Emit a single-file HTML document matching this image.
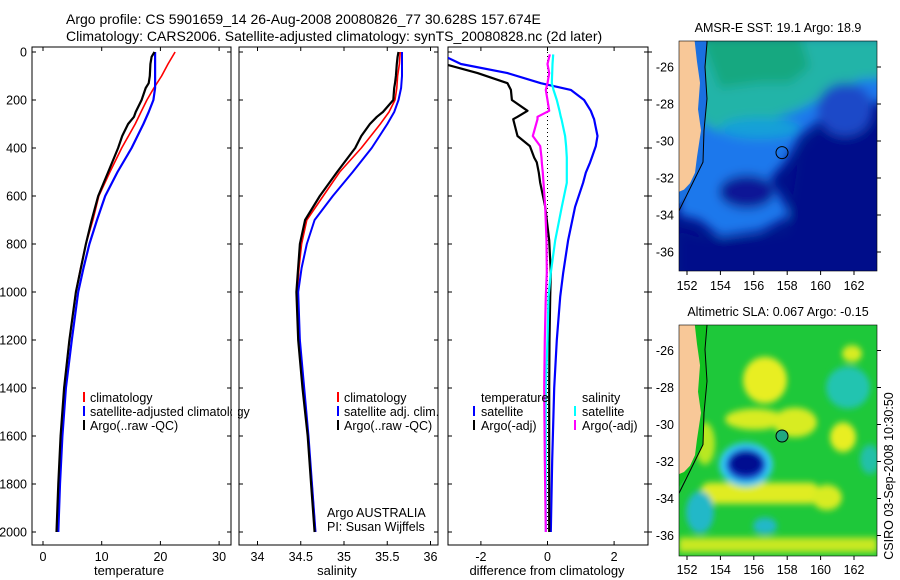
<!DOCTYPE html>
<html><head><meta charset="utf-8"><style>
html,body{margin:0;padding:0;background:#fff;}
svg{display:block;font-family:"Liberation Sans",sans-serif;}
text{fill:#000;}
</style></head><body>
<svg id="fig" width="900" height="580" viewBox="0 0 900 580">
<defs>
<clipPath id="c1"><rect x="32" y="47" width="199" height="498"/></clipPath>
<clipPath id="c2"><rect x="239" y="47" width="199" height="498"/></clipPath>
<clipPath id="c3"><rect x="448" y="47" width="200" height="498"/></clipPath>
<clipPath id="m1"><rect x="679" y="41" width="198" height="230"/></clipPath>
<clipPath id="m2"><rect x="679" y="325" width="198" height="231"/></clipPath>
<filter id="bl" x="-30%" y="-30%" width="160%" height="160%"><feGaussianBlur stdDeviation="5"/></filter>
<filter id="bl2" x="-30%" y="-30%" width="160%" height="160%"><feGaussianBlur stdDeviation="3"/></filter>
</defs>
<text x="66" y="24" font-size="14">Argo profile: CS 5901659_14 26-Aug-2008 20080826_77 30.628S 157.674E</text>
<text x="66" y="41" font-size="14">Climatology: CARS2006. Satellite-adjusted climatology: synTS_20080828.nc (2d later)</text>

<rect x="32" y="47" width="199" height="498" fill="none" stroke="#000"/>
<rect x="239" y="47" width="199" height="498" fill="none" stroke="#000"/>
<rect x="448" y="47" width="200" height="498" fill="none" stroke="#000"/>
<g id="axes"></g>
<g id="series"></g>

<text x="129" y="575" font-size="13" text-anchor="middle">temperature</text>
<text x="337" y="575" font-size="13" text-anchor="middle">salinity</text>
<text x="547" y="575" font-size="13" text-anchor="middle">difference from climatology</text>

<g font-size="12.5">
<rect x="83" y="392" width="2" height="10" fill="#f00"/><text x="90" y="402">climatology</text>
<rect x="83" y="406" width="2" height="10" fill="#00f"/><text x="90" y="416">satellite-adjusted climatology</text>
<rect x="83" y="420" width="2" height="10" fill="#000"/><text x="90" y="430">Argo(..raw -QC)</text>
</g>
<rect x="232" y="390" width="6" height="30" fill="#fff"/>
<g font-size="12.5">
<rect x="337" y="392" width="2" height="10" fill="#f00"/><text x="344" y="402">climatology</text>
<rect x="337" y="406" width="2" height="10" fill="#00f"/><text x="344" y="416">satellite adj. clim.</text>
<rect x="337" y="420" width="2" height="10" fill="#000"/><text x="344" y="430">Argo(..raw -QC)</text>
</g>
<text x="327" y="517" font-size="12.5">Argo AUSTRALIA</text>
<text x="327" y="531" font-size="12.5">PI: Susan Wijffels</text>
<g font-size="12.5">
<text x="481" y="402">temperature</text>
<rect x="473" y="406" width="2" height="10" fill="#00f"/><text x="481" y="416">satellite</text>
<rect x="473" y="420" width="2" height="10" fill="#000"/><text x="481" y="430">Argo(-adj)</text>
<text x="582" y="402">salinity</text>
<rect x="574" y="406" width="2" height="10" fill="#0ff"/><text x="582" y="416">satellite</text>
<rect x="574" y="420" width="2" height="10" fill="#f0f"/><text x="582" y="430">Argo(-adj)</text>
</g>

<text x="778" y="32" font-size="12.5" text-anchor="middle">AMSR-E SST: 19.1  Argo: 18.9</text>
<g clip-path="url(#m1)">
<rect x="679" y="41" width="198" height="230" fill="#00108a"/>
<g transform="translate(0,67) scale(1,1.057) translate(0,-60)">
<g filter="url(#bl)">
<path d="M679,30 L890,30 L890,95 L840,90 L820,110 L800,125 L785,150 L770,165 L790,200 L760,215 L720,220 L700,205 L679,200 Z" fill="#1a78ec"/>
<path d="M679,30 L890,30 L890,70 L860,72 L830,85 L800,100 L770,110 L740,125 L715,120 L700,110 L679,110 Z" fill="#20b4a8"/>
<path d="M700,30 L800,30 L810,60 L790,75 L760,75 L720,80 Z" fill="#18a880"/>
<ellipse cx="760" cy="118" rx="40" ry="10" fill="#18a0d8"/>
<ellipse cx="747" cy="178" rx="28" ry="16" fill="#0a1896"/>
<path d="M800,140 L820,120 L845,125 L890,110 L890,260 L790,260 L790,200 Z" fill="#00108a"/>
<ellipse cx="845" cy="100" rx="28" ry="25" fill="#1b48c8"/>
<path d="M679,215 L700,222 L760,222 L820,210 L820,260 L679,260 Z" fill="#00108a"/>
</g>
<path d="M693,30 L707,30 L707,37 L705,60 L707,90 L704,120 L703,150 L690,175 L679,190 L679,178 Z" fill="#1a70e0"/>
<path d="M679,30 L694,30 L697,55 L700,75 L698,100 L701,120 L697,145 L695,160 L690,170 L684,176 L679,178 Z" fill="#f8c898"/>
<path d="M707,30 L707,37 L705,60 L707,90 L704,120 L703,150 L690,175 L679,196" fill="none" stroke="#000" stroke-width="1"/>
</g>
<circle cx="782" cy="152.6" r="6" fill="none" stroke="#000"/>
</g>
<rect x="679" y="41" width="198" height="230" fill="none" stroke="#000" stroke-width="0.6"/>

<text x="778" y="316" font-size="12.5" text-anchor="middle">Altimetric SLA: 0.067  Argo: -0.15</text>
<g clip-path="url(#m2)">
<rect x="679" y="325" width="198" height="231" fill="#1ec83a"/>
<g transform="translate(0,350.5) scale(1,1.057) translate(0,-317)">
<g filter="url(#bl2)">
<ellipse cx="765" cy="345" rx="22" ry="22" fill="#e8ee20"/>
<ellipse cx="795" cy="385" rx="22" ry="14" fill="#d8ec20"/>
<ellipse cx="755" cy="382" rx="30" ry="10" fill="#d8ec20"/>
<ellipse cx="705" cy="405" rx="10" ry="20" fill="#b8e820"/>
<rect x="700" y="442" width="120" height="20" rx="10" fill="#e0ec20"/>
<ellipse cx="843" cy="399" rx="13" ry="14" fill="#e8ee20"/>
<ellipse cx="827" cy="456" rx="15" ry="12" fill="#d8ec20"/>
<ellipse cx="852" cy="320" rx="10" ry="8" fill="#d8ec20"/>
<ellipse cx="848" cy="352" rx="22" ry="20" fill="#20c4b0"/>
<ellipse cx="700" cy="470" rx="14" ry="20" fill="#20b8c8"/>
<ellipse cx="765" cy="483" rx="12" ry="8" fill="#20b8c8"/>
<ellipse cx="870" cy="420" rx="10" ry="14" fill="#20c0a8"/>
<ellipse cx="746" cy="425" rx="27" ry="21" fill="#30c8f0"/>
<ellipse cx="746" cy="425" rx="20" ry="15" fill="#1840d0"/>
<ellipse cx="746" cy="424" rx="16" ry="11" fill="#000890"/>
<rect x="679" y="494" width="198" height="14" fill="#c8e820"/>
</g>
<path d="M693,286 L707,286 L707,293 L705,316 L707,346 L704,376 L703,406 L690,431 L679,446 L679,434 Z" fill="#10c020"/>
<path d="M679,286 L694,286 L697,311 L700,331 L698,356 L701,376 L697,401 L695,416 L690,426 L684,432 L679,434 Z" fill="#f8c898"/>
<path d="M707,286 L707,293 L705,316 L707,346 L704,376 L703,406 L690,431 L679,452" fill="none" stroke="#000" stroke-width="1"/>
</g>
<circle cx="782" cy="436" r="6" fill="#20a880" stroke="#000"/>
</g>
<rect x="679" y="325" width="198" height="231" fill="none" stroke="#000" stroke-width="0.6"/>
<g id="mapaxes"></g>
<text transform="translate(893,476) rotate(-90)" font-size="12.5" text-anchor="middle">CSIRO 03-Sep-2008 10:30:50</text>
</svg>
<script>
const depthTicks = [0,200,400,600,800,1000,1200,1400,1600,1800,2000];
const tempTicks = [0,10,20,30];
const salTicks = [34,34.5,35,35.5,36];
const diffTicks = [-2,0,2];
const lonTicks = [152,154,156,158,160,162];
const latTicks = [26,28,30,32,34,36];

const depth = [0,50,100,150,200,250,300,400,500,600,700,800,900,1000,1200,1400,1600,1800,2000];
const tempClim = [22.5,21.3,20.2,18.9,17.7,16.7,15.7,13.4,11.4,9.5,8.5,7.3,6.4,5.6,4.5,3.6,3.1,2.7,2.4];
const tempSat = [19.1,19.1,19.1,19.1,18.8,18.0,17.1,15.1,12.7,10.6,9.2,7.9,6.9,6.0,4.9,3.9,3.3,2.9,2.6];
const salClim = [35.65,35.64,35.62,35.61,35.59,35.52,35.42,35.2,34.95,34.76,34.57,34.51,34.48,34.46,34.48,34.53,34.58,34.63,34.67];
const salSat = [35.67,35.67,35.67,35.66,35.63,35.58,35.5,35.32,35.1,34.87,34.66,34.57,34.51,34.47,34.49,34.54,34.59,34.63,34.67];

const argoDepth = [0,20,50,100,130,150,200,250,270,300,350,400,500,600,700,800,1000,1200,1400,1600,1800,2000];
const argoTemp = [19.0,18.5,18.3,18.2,18.0,17.5,16.8,15.8,15.5,14.5,13.5,12.8,11.1,9.4,8.3,7.3,5.6,4.5,3.6,3.0,2.6,2.3];
const argoSal = [35.63,35.62,35.61,35.6,35.59,35.58,35.57,35.45,35.38,35.3,35.2,35.13,34.92,34.72,34.55,34.49,34.45,34.47,34.52,34.58,34.62,34.66];

const diffDepth = [10,50,88,130,158,200,245,270,280,350,392,440,460,503,545,645,785,920,1020,1200,1400,1700,2000];
const satTDiff = [-3.2,-2.6,-1.2,-0.2,0.7,1.1,1.3,1.37,1.4,1.5,1.45,1.33,1.28,1.15,1.07,0.83,0.62,0.47,0.38,0.28,0.2,0.14,0.1];
const argoTDiff = [-3.5,-3.1,-2.1,-1.2,-1.1,-1.07,-0.6,-0.9,-1.03,-0.9,-0.53,-0.4,-0.32,-0.26,-0.22,-0.07,0.05,0.1,0.08,0.06,0.05,0.05,0.05];
const satSDiff = [0.17,0.15,0.14,0.13,0.18,0.28,0.36,0.4,0.42,0.53,0.56,0.58,0.58,0.58,0.58,0.43,0.23,0.1,0.03,0,-0.05,-0.05,-0.05];
const argoSDiff = [0.07,0.0,0.05,0.0,-0.05,0.0,0.05,-0.3,-0.3,-0.44,-0.22,-0.18,-0.17,-0.14,-0.12,-0.07,-0.03,-0.02,-0.05,-0.08,-0.1,-0.08,-0.05];

const NS='http://www.w3.org/2000/svg';
const yD = d => 52 + 0.24*d;
const xT = t => 43 + 5.87*t;
const xS = s => 257.5 + 86.5*(s-34);
const xF = v => 547.5 + 33.3*v;
const lonX = lon => 687 + 16.7*(lon-152);
const latY1 = lat => 67 + 18.5*(lat-26);

function mk(tag, attrs, parent){
  const e=document.createElementNS(NS,tag);
  for(const k in attrs) e.setAttribute(k,attrs[k]);
  parent.appendChild(e); return e;
}
const axes=document.getElementById('axes');
const series=document.getElementById('series');

depthTicks.forEach(d=>{
  const y=yD(d);
  const t=mk('text',{x:27,y:y+4.5,'font-size':12.5,'text-anchor':'end'},axes);
  t.textContent=d;
  
  
  [[32,231],[239,438],[448,648]].forEach(p=>{
    mk('line',{x1:p[0],x2:p[0]+4,y1:y,y2:y,stroke:'#000'},axes);
    mk('line',{x1:p[1]-4,x2:p[1],y1:y,y2:y,stroke:'#000'},axes);
  });
  mk('line',{x1:648,x2:652,y1:y,y2:y,stroke:'#000'},axes);
});
function xticks(ticks, fx, lab){
  ticks.forEach(v=>{
    const x=fx(v);
    mk('line',{x1:x,x2:x,y1:47,y2:51,stroke:'#000'},axes);
    mk('line',{x1:x,x2:x,y1:541,y2:545,stroke:'#000'},axes);
    const t=mk('text',{x:x,y:561,'font-size':12.5,'text-anchor':'middle'},axes);
    t.textContent=lab(v);
    
    
  });
}
xticks(tempTicks,xT,v=>v);
xticks(salTicks,xS,v=>v);
xticks(diffTicks,xF,v=>v);

function line(ds, vs, fx, color, w, clip, name){
  const pts=ds.map((d,i)=>fx(vs[i]).toFixed(1)+','+yD(d).toFixed(1)).join(' ');
  const p=mk('polyline',{points:pts,fill:'none',stroke:color,'stroke-width':w,'clip-path':'url(#'+clip+')','stroke-linejoin':'round'},series);
  
  
}
line(depth,tempClim,xT,'#f00',1.6,'c1','temp-climatology-line');
line(depth,tempSat,xT,'#00f',2.2,'c1','temp-satellite-line');
line(argoDepth,argoTemp,xT,'#000',2.2,'c1','temp-argo-line');
line(depth,salClim,xS,'#f00',1.6,'c2','sal-climatology-line');
line(depth,salSat,xS,'#00f',2,'c2','sal-satellite-line');
line(argoDepth,argoSal,xS,'#000',2.2,'c2','sal-argo-line');
mk('line',{x1:xF(0),x2:xF(0),y1:52,y2:532,stroke:'#000','stroke-dasharray':'1,3'},series);
line(diffDepth,satTDiff,xF,'#00f',2.2,'c3','diff-temp-satellite-line');
line(diffDepth,argoTDiff,xF,'#000',2.2,'c3','diff-temp-argo-line');
line(diffDepth,satSDiff,xF,'#0ff',2.2,'c3','diff-sal-satellite-line');
line(diffDepth,argoSDiff,xF,'#f0f',2.2,'c3','diff-sal-argo-line');

const ma=document.getElementById('mapaxes');
[[0,271,290],[283.5,556,574]].forEach(([off,bot,ly])=>{
  lonTicks.forEach(lon=>{
    const x=lonX(lon);
    mk('line',{x1:x,x2:x,y1:bot,y2:bot+4,stroke:'#000'},ma);
    const t=mk('text',{x:x,y:ly,'font-size':12.5,'text-anchor':'middle'},ma);
    t.textContent=lon;
    
    
  });
  latTicks.forEach(lat=>{
    const y=latY1(lat)+off;
    mk('line',{x1:877,x2:881,y1:y,y2:y,stroke:'#000'},ma);
    const t=mk('text',{x:674,y:y+4.5,'font-size':12.5,'text-anchor':'end'},ma);
    t.textContent='-'+lat;
    
    
  });
});
</script>
</body></html>
